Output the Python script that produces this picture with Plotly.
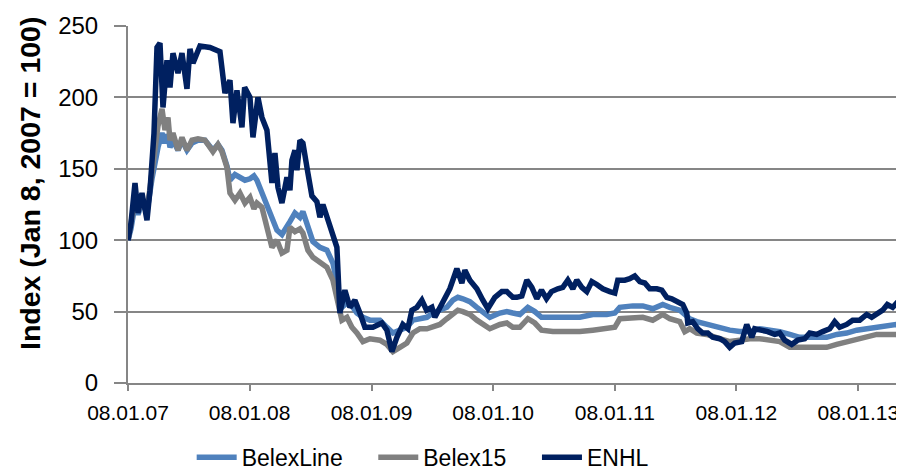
import plotly.graph_objects as go

# ---------------- data ----------------
dates_belex = [
    "2007-01-08","2007-01-17","2007-01-29","2007-02-07","2007-02-19","2007-03-06","2007-03-21","2007-03-30",
    "2007-04-08","2007-04-20","2007-04-29","2007-05-08","2007-05-14","2007-05-23","2007-06-07","2007-06-19",
    "2007-07-04","2007-07-19","2007-08-06","2007-08-27","2007-09-11","2007-09-20","2007-10-05","2007-10-17",
    "2007-11-01","2007-11-10","2007-11-25","2007-12-10","2007-12-25","2008-01-09","2008-01-21","2008-01-30",
    "2008-02-14","2008-02-29","2008-03-15","2008-03-30","2008-04-14","2008-04-29","2008-05-08","2008-05-23",
    "2008-06-07","2008-06-16","2008-07-01","2008-07-16","2008-08-06","2008-08-27","2008-09-14","2008-09-29",
    "2008-10-11","2008-10-26","2008-11-10","2008-11-25","2008-12-13","2009-01-03","2009-02-02","2009-02-23",
    "2009-03-13","2009-04-03","2009-04-24","2009-05-12","2009-06-02","2009-06-23","2009-07-11","2009-08-01",
    "2009-08-22","2009-09-09","2009-09-24","2009-10-09","2009-10-30","2009-11-20","2009-12-08","2009-12-29",
    "2010-01-28","2010-02-18","2010-03-08","2010-03-29","2010-04-22","2010-05-13","2010-06-02","2010-07-06",
    "2010-08-17","2010-09-25","2010-11-03","2010-12-15","2011-01-08","2011-01-23","2011-03-03","2011-04-02",
    "2011-05-02","2011-06-01","2011-06-22","2011-07-22","2011-08-06","2011-08-21","2011-09-11","2011-10-11",
    "2011-11-19","2011-12-19","2012-01-18","2012-02-17","2012-03-18","2012-04-17","2012-05-17","2012-06-16",
    "2012-07-16","2012-08-24","2012-10-05","2012-11-04","2012-12-04","2013-01-03","2013-02-02","2013-03-04",
    "2013-04-05","2013-05-03","2013-05-12",
]

belexline = [
    100,108,125,118,126,120,143,155,
    165,175,168,174,165,170,163,170,
    163,168,170,170,166,163,167,163,
    152,142,146,144,142,143,145,142,
    133,123,116,107,104,109,113,119,
    116,120,109,99,95,93,84,68,
    53,56,54,49,46,44,44,39,
    35,37,39,44,45,46,49,51,
    53,58,60,59,57,53,50,46,
    49,50,49,48,53,50,46,46,
    46,46,48,48,49,53,54,54,
    52,55,53,51,48,45,43,41,
    39,37,36,36,38,37,36,34,
    32,32,32,34,35,37,38,39,
    40,41,39,
]

belex15 = [
    100,112,128,120,130,120,148,165,
    180,192,177,186,170,175,163,172,
    163,170,171,170,165,162,167,162,
    151,133,128,133,126,130,122,126,
    123,110,95,100,91,93,109,106,
    108,105,93,88,85,81,72,56,
    44,46,39,35,29,31,30,27,
    22,25,28,35,38,38,39,41,
    45,48,51,50,48,44,41,38,
    41,42,39,39,45,42,37,36,
    36,36,37,38,39,45,46,46,
    44,48,45,43,36,38,35,34,
    31,29,30,31,31,30,29,25,
    25,25,25,27,29,30,32,34,
    34,34,32,
]

dates_enhl = [
    "2007-01-08","2007-01-17","2007-01-29","2007-02-07","2007-02-19","2007-03-06","2007-03-15","2007-03-21",
    "2007-03-27","2007-04-05","2007-04-14","2007-04-23","2007-05-05","2007-05-14","2007-05-23","2007-06-07",
    "2007-06-19","2007-07-04","2007-07-13","2007-07-22","2007-08-12","2007-09-11","2007-10-11","2007-10-26",
    "2007-11-10","2007-11-19","2007-12-01","2007-12-16","2007-12-24","2008-01-09","2008-01-18","2008-02-02",
    "2008-02-14","2008-02-29","2008-03-03","2008-03-15","2008-03-24","2008-04-02","2008-04-14","2008-04-29",
    "2008-05-08","2008-05-14","2008-05-23","2008-05-29","2008-06-07","2008-06-16","2008-07-01","2008-07-13",
    "2008-07-28","2008-08-06","2008-08-15","2008-08-30","2008-09-14","2008-09-26","2008-10-05","2008-10-20",
    "2008-11-04","2008-11-19","2008-12-04","2008-12-19","2009-01-12","2009-02-08","2009-02-23","2009-03-10",
    "2009-03-25","2009-04-12","2009-04-27","2009-05-09","2009-05-24","2009-06-08","2009-06-22","2009-07-08",
    "2009-07-17","2009-08-01","2009-08-16","2009-08-31","2009-09-09","2009-09-21","2009-10-06","2009-10-15",
    "2009-10-30","2009-11-20","2009-12-08","2009-12-23","2010-01-13","2010-02-03","2010-02-18","2010-03-08",
    "2010-03-20","2010-04-04","2010-04-19","2010-05-04","2010-05-19","2010-06-02","2010-06-17","2010-07-02",
    "2010-07-21","2010-08-05","2010-08-20","2010-09-04","2010-09-16","2010-10-01","2010-10-16","2010-10-31",
    "2010-11-15","2010-12-03","2010-12-24","2011-01-08","2011-01-17","2011-02-07","2011-02-22","2011-03-09",
    "2011-03-24","2011-04-08","2011-04-23","2011-05-14","2011-05-29","2011-06-13","2011-06-28","2011-07-13",
    "2011-07-31","2011-08-12","2011-08-15","2011-08-30","2011-09-14","2011-09-29","2011-10-14","2011-10-29",
    "2011-11-19","2011-12-04","2011-12-19","2012-01-03","2012-01-24","2012-02-08","2012-02-23","2012-03-03",
    "2012-03-24","2012-04-11","2012-05-02","2012-05-17","2012-06-01","2012-06-22","2012-07-10","2012-07-31",
    "2012-08-15","2012-09-05","2012-09-23","2012-10-14","2012-10-29","2012-11-13","2012-12-04","2012-12-22",
    "2013-01-12","2013-02-02","2013-02-17","2013-03-07","2013-03-22","2013-04-05","2013-04-21","2013-05-03",
    "2013-05-12",
]

enhl = [
    100,112,140,119,133,114,135,151,
    175,235,238,193,226,207,231,217,
    231,206,234,224,236,235,232,203,
    212,182,205,179,207,200,172,200,
    186,177,168,140,161,137,126,144,
    135,156,163,149,170,168,147,131,
    127,116,125,114,105,95,49,65,
    53,58,49,39,39,42,37,22,
    32,41,38,51,53,58,51,53,
    46,53,58,66,72,80,70,79,
    72,66,58,52,60,64,64,60,
    60,61,72,67,59,65,59,64,
    66,67,72,66,72,67,64,71,
    69,66,64,63,72,72,73,75,
    71,70,66,66,65,60,59,57,
    55,49,42,43,38,35,35,32,
    31,29,25,28,29,41,32,38,
    37,36,34,35,30,27,30,31,
    35,34,36,38,43,39,41,44,
    44,48,46,49,51,55,53,56,
    51,
]

series_names = ["BelexLine", "Belex15", "ENHL"]
series_colors = ["#4F81BD", "#808080", "#002060"]

tick_dates = ["2007-01-08","2008-01-08","2009-01-08","2010-01-08","2011-01-08","2012-01-08","2013-01-08"]
tick_labels = ["08.01.07","08.01.08","08.01.09","08.01.10","08.01.11","08.01.12","08.01.13"]
y_ticks = [0, 50, 100, 150, 200, 250]
y_title = "Index (Jan 8, 2007 = 100)"

# ---------------- figure ----------------
FONT = "Liberation Sans, Arial, sans-serif"
AXIS_GREY = "#868686"
PAD = "\u00a0\u00a0\u00a0\u00a0"  # spacing between legend entries

fig = go.Figure()
for name, color, xs, ys in zip(series_names, series_colors,
                               [dates_belex, dates_belex, dates_enhl],
                               [belexline, belex15, enhl]):
    fig.add_trace(go.Scatter(x=xs, y=ys, mode="lines", name=name + PAD,
                             line=dict(color=color, width=5.5)))

# page body has an 8px margin, so the figure is 8px smaller each way
fig.update_layout(
    width=896, height=466,
    margin=dict(l=120, r=4, t=18, b=91, autoexpand=False),
    paper_bgcolor="white", plot_bgcolor="white",
    font=dict(family=FONT, size=22, color="black"),
    showlegend=True,
    legend=dict(orientation="h", xref="container", x=0.205, xanchor="left",
                yref="container", y=0.036, yanchor="middle",
                font=dict(size=23), tracegroupgap=0, itemwidth=40),
    annotations=[dict(text="<b>" + y_title + "</b>", xref="paper", yref="paper",
                      x=-0.127, y=0.56, xanchor="center", yanchor="middle",
                      textangle=-90, showarrow=False, font=dict(size=28.5))],
)
fig.update_xaxes(
    type="date", range=["2007-01-08", "2013-05-13"],
    tickvals=tick_dates, ticktext=tick_labels,
    showgrid=False, showline=True, linecolor=AXIS_GREY, linewidth=2,
    ticks="outside", ticklen=6, tickcolor=AXIS_GREY, tickwidth=2,
    tickfont=dict(size=21), ticklabelstandoff=4, zeroline=False, automargin=False,
)
fig.update_yaxes(
    range=[0, 250], tickvals=y_ticks,
    showgrid=True, gridcolor=AXIS_GREY, gridwidth=2,
    showline=True, linecolor=AXIS_GREY, linewidth=2,
    ticks="outside", ticklen=12, tickcolor=AXIS_GREY, tickwidth=2,
    tickfont=dict(size=24), ticklabelstandoff=11, zeroline=False, automargin=False,
)

fig.write_html("out.html")
